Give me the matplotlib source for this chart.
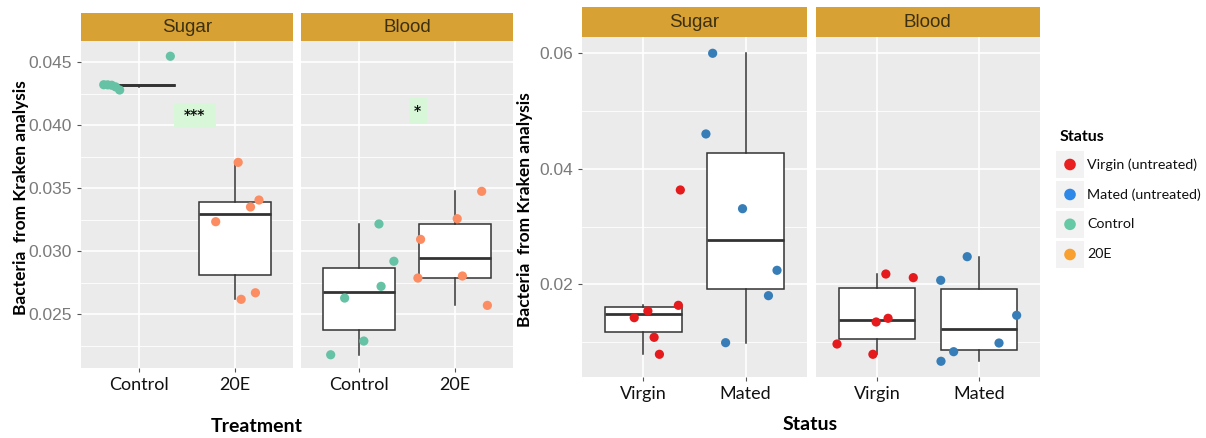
import numpy as np
import matplotlib.pyplot as plt
from matplotlib.patches import Rectangle

W, H = 1206, 438  # размер картинки в пикселях

# Левый график: Treatment (Control / 20E) по панелям Sugar и Blood
treat_labels = ['Control', '20E']
sugar_control = [0.04322, 0.04321, 0.04318, 0.04305, 0.04280, 0.04548]
sugar_20e = [0.03706, 0.03407, 0.03352, 0.03235, 0.02671, 0.02619]
blood_control = [0.03217, 0.02921, 0.02722, 0.02629, 0.02288, 0.02179]
blood_20e = [0.03476, 0.03259, 0.03095, 0.02788, 0.02804, 0.02571]

# Правый график: Status (Virgin / Mated)
status_labels = ['Virgin', 'Mated']
sugar_virgin = [0.01422, 0.01538, 0.01636, 0.03633, 0.01082, 0.00788]
sugar_mated = [0.06000, 0.04603, 0.03309, 0.02242, 0.01803, 0.00989]
blood_virgin = [0.02178, 0.02115, 0.01411, 0.01347, 0.00966, 0.00788]
blood_mated = [0.02478, 0.02069, 0.01463, 0.00983, 0.00833, 0.00667]

# Сдвиги точек по x (jitter), в долях категории
jit_sugar_control = [-0.364, -0.323, -0.282, -0.241, -0.199, 0.327]
jit_sugar_20e = [0.031, 0.247, 0.159, -0.202, 0.210, 0.062]
jit_blood_control = [0.209, 0.364, 0.231, -0.147, 0.052, -0.292]
jit_blood_20e = [0.275, 0.021, -0.359, -0.387, 0.075, 0.334]
jit_sugar_virgin = [-0.091, 0.043, 0.342, 0.361, 0.104, 0.156]
jit_sugar_mated = [-0.322, -0.388, -0.029, 0.309, 0.225, -0.195]
jit_blood_virgin = [0.088, 0.357, 0.110, -0.007, -0.391, -0.039]
jit_blood_mated = [-0.114, -0.374, 0.371, 0.198, -0.247, -0.371]

legend_labels = ['Virgin (untreated)', 'Mated (untreated)', 'Control', '20E']
legend_colors = ['#e8201f', '#2e88e8', '#66c9a5', '#f8a030']

c_control = '#66c2a5'
c_20e = '#fc8d62'
c_virgin = '#e41a1c'
c_mated = '#377eb8'

strip_bg = '#d8a133'
panel_bg = '#ebebeb'
box_col = '#333333'
tick_grey = '#7a7a7a'
sans = 'Liberation Sans'
calibri_like = 'Lato'

fig = plt.figure(figsize=(W / 100, H / 100), dpi=100)
fig.patch.set_facecolor('white')


def px_axes(x0, y0, x1, y1):
    return fig.add_axes([x0 / W, 1 - y1 / H, (x1 - x0) / W, (y1 - y0) / H])


def strip(x0, y0, x1, y1, title):
    sa = px_axes(x0, y0, x1, y1)
    sa.set_facecolor(strip_bg)
    sa.set_xticks([])
    sa.set_yticks([])
    for s in sa.spines.values():
        s.set_visible(False)
    sa.text(0.5, 0.47, title, ha='center', va='center', fontsize=13.5,
            family=sans, color='#3b3012', transform=sa.transAxes)


def panel(ax, groups, jitters, colors, ylim, major, minor, labels, ylabels):
    ax.set_facecolor(panel_bg)
    for s in ax.spines.values():
        s.set_visible(False)
    ax.set_xlim(0.4, 2.6)
    ax.set_ylim(*ylim)
    ax.set_yticks(major)
    ax.set_yticks(minor, minor=True)
    ax.set_xticks([1, 2])
    ax.grid(True, which='major', color='white', linewidth=1.2)
    ax.grid(True, which='minor', axis='y', color='white', linewidth=0.6)
    ax.set_axisbelow(True)
    ax.tick_params(which='minor', length=0)
    ax.tick_params(which='major', length=3, color='#555555', width=0.8)
    ax.set_xticklabels(labels, family=calibri_like, fontsize=13, color='#111111')
    if ylabels:
        ax.set_yticklabels(ylabels, family=sans, fontsize=12.5, color=tick_grey)
    else:
        ax.tick_params(axis='y', which='major', length=0, labelleft=False)

    bp = ax.boxplot(groups, positions=[1, 2], widths=0.75, whis=1.5,
                    patch_artist=True, showfliers=False, showcaps=False,
                    manage_ticks=False)
    for b in bp['boxes']:
        b.set_facecolor('white')
        b.set_edgecolor(box_col)
        b.set_linewidth(1.1)
    for w in bp['whiskers']:
        w.set_color(box_col)
        w.set_linewidth(1.1)
    for m in bp['medians']:
        m.set_color(box_col)
        m.set_linewidth(2.0)

    for i, (vals, jit, col) in enumerate(zip(groups, jitters, colors)):
        x = np.array(jit) + i + 1
        ax.scatter(x, vals, s=44, color=col, edgecolors='none', zorder=3)


# ---- левый график ----
left_ylim = (0.02074, 0.04669)
left_major = [0.025, 0.030, 0.035, 0.040, 0.045]
left_minor = [0.0225, 0.0275, 0.0325, 0.0375, 0.0425]
left_ticklabels = ['0.025', '0.030', '0.035', '0.040', '0.045']

ax1 = px_axes(81, 41, 293, 368)
panel(ax1, [sugar_control, sugar_20e], [jit_sugar_control, jit_sugar_20e],
      [c_control, c_20e], left_ylim, left_major, left_minor, treat_labels,
      left_ticklabels)
strip(81, 13, 293, 41, 'Sugar')

ax2 = px_axes(301, 41, 513, 368)
panel(ax2, [blood_control, blood_20e], [jit_blood_control, jit_blood_20e],
      [c_control, c_20e], left_ylim, left_major, left_minor, treat_labels, None)
strip(301, 13, 513, 41, 'Blood')

# значки значимости
ax1.add_patch(Rectangle((1.36, 0.03981), 0.44, 0.00198, facecolor='#d8f7d8',
                        edgecolor='none', zorder=2))
ax1.text(1.58, 0.0408, '***', ha='center', va='center', fontsize=10,
         fontweight='bold', color='#111111', zorder=4)
ax2.add_patch(Rectangle((1.517, 0.0401), 0.186, 0.00207, facecolor='#d8f7d8',
                        edgecolor='none', zorder=2))
ax2.text(1.61, 0.0411, '*', ha='center', va='center', fontsize=10,
         fontweight='bold', color='#111111', zorder=4)

# ---- правый график ----
right_ylim = (0.0040, 0.06287)
right_major = [0.02, 0.04, 0.06]
right_minor = [0.01, 0.03, 0.05]
right_ticklabels = ['0.02', '0.04', '0.06']

ax3 = px_axes(582.3, 36.7, 806.7, 376.7)
panel(ax3, [sugar_virgin, sugar_mated], [jit_sugar_virgin, jit_sugar_mated],
      [c_virgin, c_mated], right_ylim, right_major, right_minor, status_labels,
      right_ticklabels)
strip(582.3, 7.3, 806.7, 36.7, 'Sugar')

ax4 = px_axes(815.7, 36.7, 1040, 376.7)
panel(ax4, [blood_virgin, blood_mated], [jit_blood_virgin, jit_blood_mated],
      [c_virgin, c_mated], right_ylim, right_major, right_minor, status_labels, None)
strip(815.7, 7.3, 1040, 36.7, 'Blood')

# ---- подписи осей и легенда (в пикселях картинки) ----
ov = fig.add_axes([0, 0, 1, 1], zorder=-1)
ov.set_xlim(0, W)
ov.set_ylim(H, 0)
ov.axis('off')

ov.text(257, 426, 'Treatment', ha='center', va='center', fontsize=14,
        fontweight='bold', family=calibri_like)
ov.text(810, 425, 'Status', ha='center', va='center', fontsize=14,
        fontweight='bold', family=calibri_like)
ov.text(21, 198, 'Bacteria  from Kraken analysis', ha='center', va='center',
        rotation=90, fontsize=12.5, fontweight='bold', family=calibri_like)
ov.text(525, 210, 'Bacteria  from Kraken analysis', ha='center', va='center',
        rotation=90, fontsize=12.5, fontweight='bold', family=calibri_like)

ov.text(1060, 137, 'Status', ha='left', va='center', fontsize=11.5,
        fontweight='bold', family=calibri_like)
key_top = [150.7, 180.7, 210.5, 240.7]
for yk, lab, col in zip(key_top, legend_labels, legend_colors):
    ov.add_patch(Rectangle((1056, yk), 28.3, 27.5, facecolor='#f2f2f2',
                           edgecolor='none'))
    ov.scatter([1070], [yk + 13.8], s=70, color=col, edgecolors='none')
    ov.text(1087, yk + 13.8, lab, ha='left', va='center', fontsize=10.3,
            family=calibri_like, color='#111111')

fig.savefig('out.png', dpi=100)
